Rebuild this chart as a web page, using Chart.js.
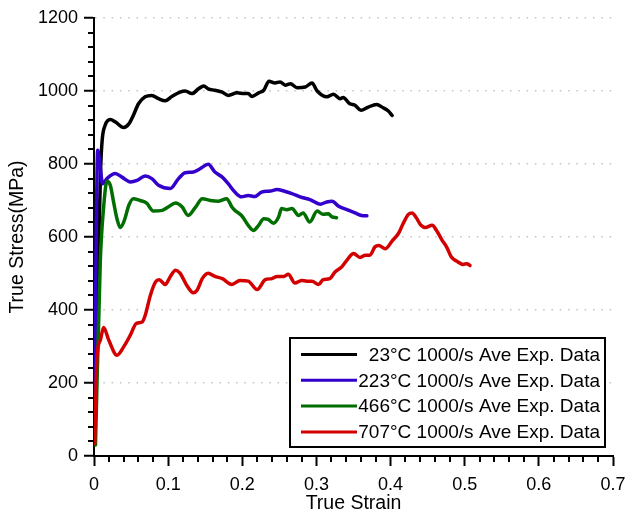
<!DOCTYPE html>
<html>
<head>
<meta charset="utf-8">
<script src="https://cdn.jsdelivr.net/npm/chart.js@4.4.0/dist/chart.umd.min.js"></script>
<style>
	body { margin: 0; background: #fff; }
	#wrap { width: 627px; height: 513px; }
</style>
</head>
<body>
<div id="wrap"><canvas id="myChart" width="627" height="513"></canvas></div>
<script>
// True strain / true stress
const strain23 = [0.002, 0.006, 0.009, 0.011, 0.015, 0.022, 0.029, 0.040, 0.047, 0.053, 0.060, 0.069, 0.078, 0.087, 0.096, 0.105, 0.116, 0.123, 0.132, 0.141, 0.148, 0.154, 0.163, 0.173, 0.181, 0.193, 0.202, 0.208, 0.213, 0.222, 0.229, 0.236, 0.244, 0.251, 0.258, 0.265, 0.274, 0.285, 0.294, 0.301, 0.314, 0.323, 0.332, 0.336, 0.345, 0.352, 0.360, 0.370, 0.381, 0.390, 0.397, 0.402];
const stress23 = [250, 550, 790, 865, 906, 922, 915, 900, 910, 933, 965, 984, 988, 979, 973, 985, 997, 1000, 993, 1006, 1014, 1006, 1002, 997, 988, 995, 993, 993, 985, 995, 1002, 1027, 1022, 1025, 1016, 1020, 1009, 1011, 1022, 1000, 984, 991, 979, 982, 965, 961, 947, 956, 963, 954, 945, 933];

const strain223 = [0.001, 0.003, 0.005, 0.008, 0.0116, 0.0175, 0.0287, 0.0377, 0.049, 0.058, 0.069, 0.078, 0.087, 0.103, 0.114, 0.123, 0.134, 0.143, 0.154, 0.163, 0.173, 0.181, 0.190, 0.199, 0.208, 0.217, 0.226, 0.238, 0.247, 0.256, 0.267, 0.278, 0.292, 0.305, 0.314, 0.321, 0.330, 0.341, 0.352, 0.361, 0.368];
const stress223 = [150, 600, 838, 800, 746, 760, 774, 764, 751, 755, 767, 760, 742, 733, 760, 776, 778, 787, 799, 778, 764, 746, 723, 710, 714, 711, 723, 726, 730, 726, 719, 710, 702, 690, 696, 698, 684, 675, 666, 659, 658];

const strain466 = [0.002, 0.0085, 0.013, 0.0175, 0.022, 0.0264, 0.031, 0.0354, 0.041, 0.047, 0.053, 0.062, 0.071, 0.080, 0.092, 0.100, 0.110, 0.119, 0.127, 0.137, 0.146, 0.157, 0.168, 0.179, 0.186, 0.190, 0.199, 0.208, 0.215, 0.222, 0.229, 0.235, 0.242, 0.249, 0.253, 0.260, 0.267, 0.276, 0.282, 0.291, 0.301, 0.309, 0.316, 0.321, 0.327];
const stress466 = [30, 535, 682, 753, 742, 696, 650, 626, 646, 687, 705, 700, 693, 671, 673, 682, 693, 682, 659, 682, 705, 700, 698, 705, 682, 673, 659, 632, 618, 632, 650, 648, 638, 655, 678, 675, 678, 659, 666, 641, 671, 662, 664, 655, 653];

const strain707 = [0.001, 0.004, 0.0085, 0.013, 0.020, 0.031, 0.040, 0.049, 0.057, 0.065, 0.069, 0.076, 0.083, 0.088, 0.096, 0.103, 0.110, 0.116, 0.125, 0.134, 0.139, 0.146, 0.154, 0.163, 0.173, 0.186, 0.197, 0.208, 0.220, 0.231, 0.240, 0.247, 0.256, 0.262, 0.271, 0.280, 0.287, 0.294, 0.303, 0.309, 0.318, 0.325, 0.334, 0.341, 0.350, 0.359, 0.366, 0.372, 0.379, 0.384, 0.393, 0.402, 0.411, 0.417, 0.424, 0.429, 0.434, 0.441, 0.447, 0.456, 0.462, 0.469, 0.476, 0.482, 0.489, 0.498, 0.503, 0.507];
const stress707 = [34, 271, 317, 352, 317, 276, 299, 331, 363, 367, 385, 440, 477, 483, 470, 492, 509, 501, 468, 447, 454, 486, 501, 492, 486, 470, 481, 479, 456, 483, 486, 492, 492, 498, 474, 481, 479, 479, 470, 483, 486, 504, 518, 536, 555, 544, 550, 550, 573, 577, 568, 589, 611, 637, 662, 666, 655, 632, 626, 632, 618, 593, 571, 545, 534, 525, 527, 522];

const seriesLabels = ['23°C 1000/s Ave Exp. Data', '223°C 1000/s Ave Exp. Data', '466°C 1000/s Ave Exp. Data', '707°C 1000/s Ave Exp. Data'];
const seriesColors = ['#000000', '#3300cc', '#006e00', '#d20000'];

// axis ranges and ticks
const xMin = 0, xMax = 0.7, xStep = 0.1, xMinorStep = 0.02;
const yMin = 0, yMax = 1200, yStep = 200, yMinorStep = 40;

const FONT = '"Liberation Sans", Arial, Helvetica, sans-serif';

function toPoints(xs, ys) {
	return xs.map((v, i) => ({ x: v, y: ys[i] }));
}

// small ticks between the labelled ones
const minorTicks = {
	id: 'minorTicks',
	afterDraw(chart) {
		const { ctx, scales: { x, y } } = chart;
		ctx.save();
		ctx.strokeStyle = '#000';
		ctx.lineWidth = 2;
		ctx.beginPath();
		const ny = Math.round((yMax - yMin) / yMinorStep);
		for (let i = 0; i <= ny; i++) {
			const v = yMin + i * yMinorStep;
			if (Math.abs(v / yStep - Math.round(v / yStep)) < 1e-6) continue;
			const py = Math.round(y.getPixelForValue(v));
			ctx.moveTo(y.right - 6, py);
			ctx.lineTo(y.right, py);
		}
		const nx = Math.round((xMax - xMin) / xMinorStep);
		for (let i = 0; i <= nx; i++) {
			const v = xMin + i * xMinorStep;
			if (Math.abs(v / xStep - Math.round(v / xStep)) < 1e-6) continue;
			const px = Math.round(x.getPixelForValue(v));
			ctx.moveTo(px, x.top);
			ctx.lineTo(px, x.top + 6);
		}
		ctx.stroke();
		ctx.restore();
	}
};

// boxed legend in the lower right, text right aligned
const boxLegend = {
	id: 'boxLegend',
	afterDraw(chart) {
		const { ctx, chartArea } = chart;
		const w = 315, h = 109;
		const right = chartArea.right - 8;
		const bottom = chartArea.bottom - 9;
		const left = right - w, top = bottom - h;
		ctx.save();
		ctx.fillStyle = '#fff';
		ctx.fillRect(left, top, w, h);
		ctx.strokeStyle = '#000';
		ctx.lineWidth = 2;
		ctx.strokeRect(left, top, w, h);
		ctx.font = '19px ' + FONT;
		ctx.textAlign = 'right';
		ctx.textBaseline = 'middle';
		chart.data.datasets.forEach((ds, i) => {
			const yy = top + 16.5 + i * 25.8;
			ctx.strokeStyle = ds.borderColor;
			ctx.lineWidth = 3;
			ctx.beginPath();
			ctx.moveTo(left + 11, yy);
			ctx.lineTo(left + 67, yy);
			ctx.stroke();
			ctx.fillStyle = '#000';
			ctx.fillText(ds.label, right - 5, yy + 1);
		});
		ctx.restore();
	}
};

window.onload = () => {
	Chart.defaults.font.family = FONT;
	Chart.defaults.font.size = 18;
	Chart.defaults.color = '#000';

	const allX = [strain23, strain223, strain466, strain707];
	const allY = [stress23, stress223, stress466, stress707];
	const datasets = seriesLabels.map((label, i) => ({
		label,
		data: toPoints(allX[i], allY[i]),
		borderColor: seriesColors[i],
		backgroundColor: seriesColors[i],
		borderWidth: 3.5,
		pointRadius: 0,
		cubicInterpolationMode: 'monotone',
		borderCapStyle: 'round',
		borderJoinStyle: 'round',
		// red on top, black at the bottom
		order: seriesLabels.length - 1 - i
	}));

	const ctx = document.getElementById('myChart').getContext('2d');
	const myChart = new Chart(ctx, {
		type: 'line',
		data: { datasets },
		options: {
			responsive: false,
			animation: false,
			layout: { padding: { left: 0, top: 18, right: 14, bottom: 0 } },
			plugins: {
				legend: { display: false },
				tooltip: { enabled: false }
			},
			scales: {
				x: {
					type: 'linear',
					min: xMin,
					max: xMax,
					afterFit: (scale) => {
						scale.height = 57;
						scale.paddingLeft = 0;
						scale.paddingRight = 0;
					},
					ticks: { stepSize: xStep, padding: 8, maxRotation: 0 },
					grid: { drawOnChartArea: false, tickLength: 10, tickWidth: 2, tickColor: '#000' },
					border: { color: '#000', width: 2 },
					title: { display: true, text: 'True Strain', font: { size: 19.5 }, padding: { top: 0, bottom: -2 } }
				},
				y: {
					type: 'linear',
					min: yMin,
					max: yMax,
					afterFit: (scale) => {
						scale.width = 94;
						scale.paddingTop = 0;
						scale.paddingBottom = 0;
					},
					ticks: { stepSize: yStep, padding: 6, callback: (v) => String(v) },
					grid: { color: '#c4c4c4', lineWidth: 1.5, tickLength: 10, tickWidth: 2, tickColor: '#000' },
					border: { color: '#000', width: 2, dash: [1.5, 6.8] },
					title: { display: true, text: 'True Stress(MPa)', font: { size: 19.5 }, padding: { top: 6, bottom: 0 } }
				}
			}
		},
		plugins: [minorTicks, boxLegend]
	});
};
</script>
</body>
</html>
